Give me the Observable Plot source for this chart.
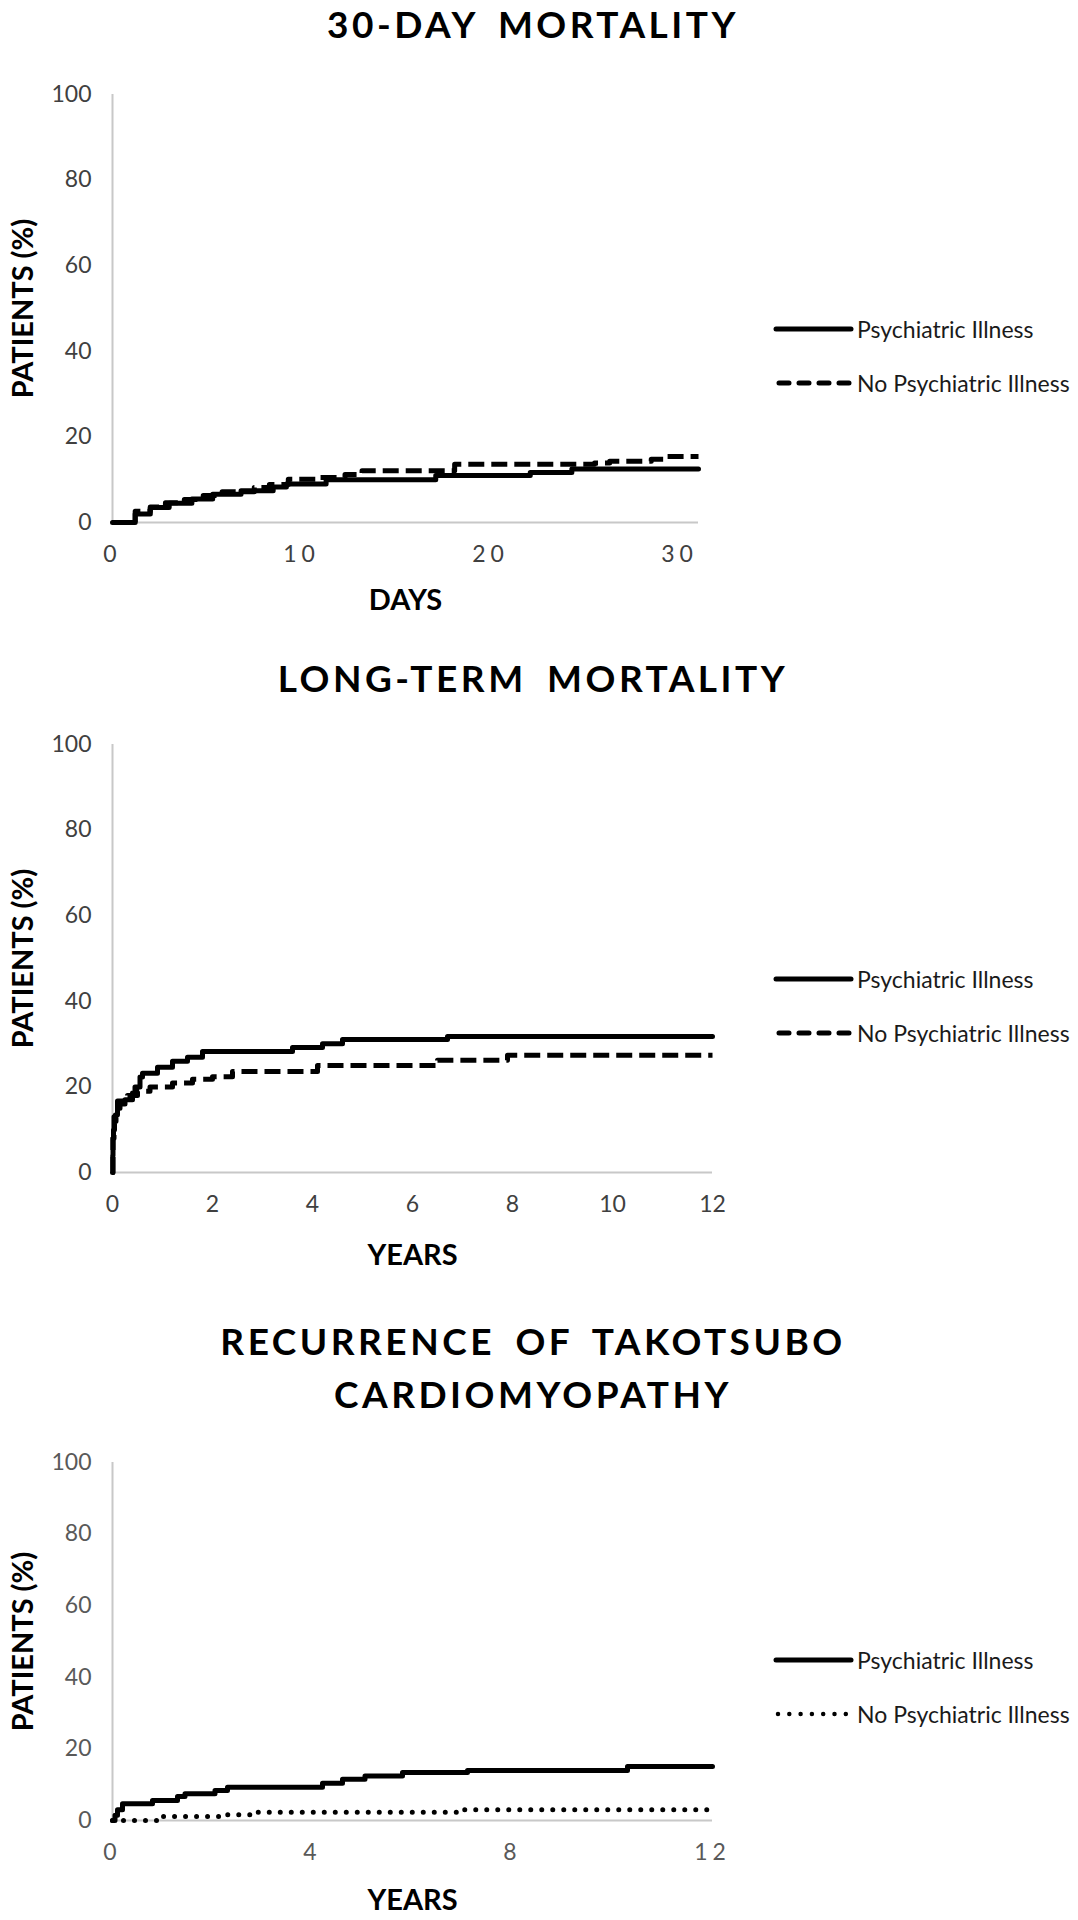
<!DOCTYPE html>
<html>
<head>
<meta charset="utf-8">
<script src="https://cdn.jsdelivr.net/npm/d3@7"></script>
<script src="https://cdn.jsdelivr.net/npm/@observablehq/plot@0.6"></script>
<style>
  html, body { margin: 0; padding: 0; background: #fff; }
  #page { position: relative; width: 1078px; height: 1920px; overflow: hidden; background: #fff; }
  .title { position: absolute; left: 0; width: 1066px; text-align: center; font-family: Lato, "Open Sans", sans-serif;
           font-weight: 700; font-size: 37px; letter-spacing: 3.5px; word-spacing: 8px; color: #000; line-height: 53px; }
  .panel { position: absolute; left: 0; }
  .legend { position: absolute; left: 770px; }
  .spaced [aria-label="x-axis tick label"] text { letter-spacing: 5px; }
</style>
</head>
<body>
<div id="page"></div>
<script>
// ---------- Data ----------
const yTicks = [0, 20, 40, 60, 80, 100];
const seriesNames = ["Psychiatric Illness", "No Psychiatric Illness"];

// Panel 1: 30-day mortality (days)
const p1Ticks = [0, 10, 20, 30];
const p1PsychDays = [0, 1.2, 2.0, 3.0, 4.2, 5.3, 6.8, 8.5, 9.2, 11.3, 17.1, 22.1, 24.3, 31];
const p1PsychPct  = [0, 2.0, 3.5, 4.5, 5.5, 6.6, 7.4, 8.3, 9.0, 10.0, 11.0, 11.7, 12.5, 12.5];
const p1NoPsychDays = [0, 1.2, 2.0, 2.8, 3.8, 4.8, 5.8, 7.5, 8.3, 9.3, 11.0, 12.3, 13.2, 18.1, 25.5, 26.3, 28.5, 29.3, 31];
const p1NoPsychPct  = [0, 2.6, 3.6, 4.6, 5.4, 6.3, 7.2, 8.2, 8.9, 10.1, 10.5, 11.2, 12.1, 13.6, 13.9, 14.3, 14.8, 15.4, 15.4];

// Panel 2: long-term mortality (years)
const p2Ticks = [0, 2, 4, 6, 8, 10, 12];
const p2PsychYears = [0, 0.005, 0.01, 0.02, 0.04, 0.07, 0.1, 0.15, 0.25, 0.4, 0.45, 0.55, 0.6, 0.9, 1.2, 1.5, 1.8, 3.6, 4.2, 4.6, 6.7, 12];
const p2PsychPct   = [0, 4, 8, 10, 12, 13.5, 15, 16, 17, 18.6, 20, 22.3, 23.2, 24.6, 26, 26.9, 28.3, 29.2, 30.1, 31.1, 31.8, 31.8];
const p2NoPsychYears = [0, 0.01, 0.03, 0.06, 0.1, 0.3, 0.5, 0.75, 1.2, 1.6, 2.0, 2.4, 4.1, 6.5, 7.9, 12];
const p2NoPsychPct   = [0, 8, 13, 15, 16.7, 18, 19, 20, 20.9, 21.8, 22.4, 23.6, 25, 26.2, 27.4, 27.4];

// Panel 3: recurrence of takotsubo cardiomyopathy (years)
const p3Ticks = [0, 4, 8, 12];
const p3PsychYears = [0, 0.05, 0.1, 0.2, 0.8, 1.3, 1.45, 2.05, 2.3, 4.2, 4.6, 5.05, 5.8, 7.1, 10.3, 12];
const p3PsychPct   = [0, 1.5, 3.0, 4.7, 5.6, 6.7, 7.5, 8.4, 9.3, 10.4, 11.5, 12.4, 13.4, 14.0, 15.1, 15.1];
const p3NoPsychYears = [0, 0.95, 2.25, 2.8, 6.9, 12];
const p3NoPsychPct   = [0, 1.1, 1.6, 2.3, 3.0, 3.0];

// ---------- Helpers ----------
const zip = (xs, ys) => xs.map((t, i) => ({t, v: ys[i]}));
const page = document.getElementById("page");

const DASH = "16 7";
const DOT = "0 11";

function makePanel(cfg) {
  const mt = 20;
  const plot = Plot.plot({
    width: 720,
    height: mt + cfg.frameH + cfg.mb,
    marginTop: mt,
    marginLeft: 112,
    marginRight: 720 - cfg.xEnd,
    marginBottom: cfg.mb,
    x: {domain: cfg.xDomain},
    y: {domain: [0, 100]},
    style: {fontFamily: "Lato, 'Open Sans', sans-serif", fontSize: "23px", color: cfg.tickColor, background: "#fff", overflow: "visible"},
    marks: [
      Plot.ruleX([0], {y1: 0, y2: 100, stroke: "#c8c8c8", strokeWidth: 2}),
      Plot.ruleY([0], {stroke: "#c8c8c8", strokeWidth: 2}),
      Plot.axisY({ticks: yTicks, tickSize: 0, tickPadding: 21, label: null, tickFormat: d => String(d)}),
      Plot.axisX({ticks: cfg.xTicks, tickSize: 0, tickPadding: 23, label: null, tickFormat: d => String(d)}),
      Plot.line(zip(cfg.a[0], cfg.a[1]), {x: "t", y: "v", curve: "step-after", stroke: "#000", strokeWidth: 5}),
      Plot.line(zip(cfg.b[0], cfg.b[1]), {x: "t", y: "v", curve: "step-after", stroke: "#000",
        strokeWidth: 5, strokeDasharray: cfg.bDash, strokeLinecap: cfg.bDash === DOT ? "round" : "butt"}),
      Plot.text([cfg.xLabel], {text: d => d, frameAnchor: "bottom", lineAnchor: "middle", dy: cfg.xLabelDy, fontWeight: "bold", fontSize: 29, fill: "#000"}),
      Plot.text(["PATIENTS (%)"], {text: d => d, frameAnchor: "left", textAnchor: "middle", lineAnchor: "middle", rotate: -90, dx: -89, fontWeight: "bold", fontSize: 29, fill: "#000"})
    ]
  });
  const wrap = document.createElement("div");
  wrap.className = "panel" + (cfg.spaced ? " spaced" : "");
  wrap.style.top = (cfg.frameTop - mt) + "px";
  wrap.appendChild(plot);
  page.appendChild(wrap);
}

function makeTitle(text, top) {
  const d = document.createElement("div");
  d.className = "title";
  d.style.top = top + "px";
  d.innerHTML = text;
  page.appendChild(d);
}

function makeLegend(top, dash) {
  const ns = "http://www.w3.org/2000/svg";
  const svg = document.createElementNS(ns, "svg");
  svg.setAttribute("width", 308);
  svg.setAttribute("height", 100);
  svg.setAttribute("class", "legend");
  svg.style.top = top + "px";
  const rows = [
    {y: 20, dash: null, name: seriesNames[0]},
    {y: 74, dash: dash, name: seriesNames[1]}
  ];
  for (const r of rows) {
    const l = document.createElementNS(ns, "line");
    l.setAttribute("x1", 6); l.setAttribute("x2", 81);
    l.setAttribute("y1", r.y); l.setAttribute("y2", r.y);
    l.setAttribute("stroke", "#000");
    if (r.dash === DOT) {
      l.setAttribute("stroke-width", 4.5);
      l.setAttribute("stroke-dasharray", "0 11.3");
      l.setAttribute("stroke-linecap", "round");
      l.setAttribute("x1", 8); l.setAttribute("x2", 78);
    } else if (r.dash) {
      l.setAttribute("stroke-width", 5);
      l.setAttribute("stroke-dasharray", "10 10");
      l.setAttribute("stroke-linecap", "round");
      l.setAttribute("x1", 9); l.setAttribute("x2", 79);
    } else {
      l.setAttribute("stroke-width", 5);
      l.setAttribute("stroke-linecap", "round");
    }
    svg.appendChild(l);
    const t = document.createElementNS(ns, "text");
    t.setAttribute("x", 87);
    t.setAttribute("y", r.y);
    t.setAttribute("dominant-baseline", "central");
    t.setAttribute("font-family", "Lato, 'Open Sans', sans-serif");
    t.setAttribute("font-size", 23);
    t.setAttribute("fill", "#1a1a1a");
    t.textContent = r.name;
    svg.appendChild(t);
  }
  page.appendChild(svg);
}

// ---------- Panels ----------
makeTitle("30-DAY MORTALITY", -3);
makePanel({frameTop: 94, frameH: 428, mb: 100, xEnd: 698, xDomain: [0, 31], xTicks: p1Ticks,
  a: [p1PsychDays, p1PsychPct], b: [p1NoPsychDays, p1NoPsychPct], bDash: DASH,
  xLabel: "DAYS", xLabelDy: 78, tickColor: "#404040", spaced: true});
makeLegend(309, DASH);

makeTitle("LONG-TERM MORTALITY", 651);
makePanel({frameTop: 744, frameH: 428, mb: 100, xEnd: 712, xDomain: [0, 12], xTicks: p2Ticks,
  a: [p2PsychYears, p2PsychPct], b: [p2NoPsychYears, p2NoPsychPct], bDash: DASH,
  xLabel: "YEARS", xLabelDy: 83, tickColor: "#404040", spaced: false});
makeLegend(959, DASH);

makeTitle("RECURRENCE OF TAKOTSUBO<br>CARDIOMYOPATHY", 1314);
makePanel({frameTop: 1462, frameH: 358, mb: 98, xEnd: 712, xDomain: [0, 12], xTicks: p3Ticks,
  a: [p3PsychYears, p3PsychPct], b: [p3NoPsychYears, p3NoPsychPct], bDash: DOT,
  xLabel: "YEARS", xLabelDy: 80, tickColor: "#595959", spaced: true});
makeLegend(1640, DOT);
</script>
</body>
</html>
